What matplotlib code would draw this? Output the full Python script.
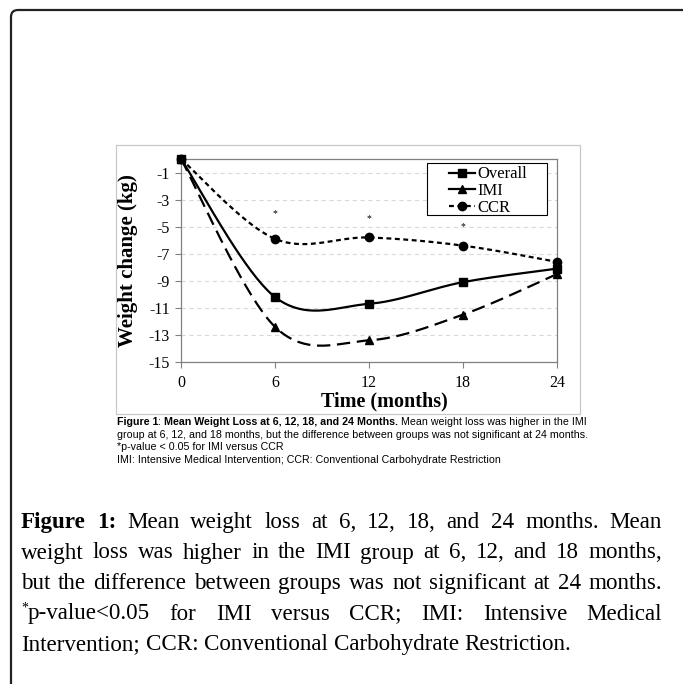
import numpy as np
import matplotlib
matplotlib.use("Agg")
import matplotlib.pyplot as plt
from matplotlib.patches import FancyBboxPatch, Rectangle
from matplotlib.lines import Line2D

# ── data ────────────────────────────────────────────────────────────
months   = [0, 6, 12, 18, 24]
overall  = [0, -10.2, -10.7, -9.1, -8.1]
imi      = [0, -12.4, -13.4, -11.5, -8.5]
ccr      = [0, -5.9, -5.8, -6.4, -7.6]
star_x   = [6, 12, 18]
star_y   = [-4.0, -4.4, -5.0]
y_ticks  = [-1, -3, -5, -7, -9, -11, -13, -15]
x_ticks  = [0, 6, 12, 18, 24]

SERIF = ["Liberation Serif", "DejaVu Serif"]
SANS  = ["Liberation Sans", "DejaVu Sans"]


def smooth(x, y, n=40):
    # Excel-style smoothed line: cubic Bezier through the points
    pts = np.column_stack([x, y]).astype(float)
    P = np.vstack([pts[0], pts, pts[-1]])
    t = np.linspace(0, 1, n)[:, None]
    out = []
    for i in range(1, len(P) - 2):
        p0, p1, p2, p3 = P[i - 1], P[i], P[i + 1], P[i + 2]
        c1 = p1 + (p2 - p0) / 6
        c2 = p2 - (p3 - p1) / 6
        seg = (1 - t)**3 * p1 + 3 * (1 - t)**2 * t * c1 + 3 * (1 - t) * t**2 * c2 + t**3 * p2
        out.append(seg if i == 1 else seg[1:])
    s = np.vstack(out)
    return s[:, 0], s[:, 1]


fig = plt.figure(figsize=(6.83, 6.84), dpi=100)

# page layer in pixel coordinates
page = fig.add_axes([0, 0, 1, 1])
page.set_xlim(0, 683)
page.set_ylim(684, 0)
page.axis("off")

page.add_patch(FancyBboxPatch((11, 10), 720, 720, boxstyle="round,pad=0,rounding_size=7",
                              fill=False, ec="#222222", lw=1.6))
page.add_patch(Rectangle((116, 145), 464, 269, fill=False, ec="#c8c8c8", lw=0.9))

# ── chart ───────────────────────────────────────────────────────────
ax = fig.add_axes([181 / 683, 1 - 362 / 684, 376 / 683, 203 / 684])
series = [
    ("Overall", overall, "s", "-"),
    ("IMI", imi, "^", (0, (6, 3))),
    ("CCR", ccr, "o", (0, (2.2, 1.6))),
]
handles = []
for label, vals, mk, ls in series:
    sx, sy = smooth(months, vals)
    ax.plot(sx, sy, color="black", lw=1.6, ls=ls, clip_on=False, zorder=3)
    ax.plot(months, vals, ls="none", marker=mk, color="black", ms=6, clip_on=False, zorder=4)
    handles.append(Line2D([], [], color="black", lw=1.6,
                          ls="-" if label != "CCR" else (0, (2.2, 1.6)),
                          marker=mk, ms=6))

for xs, ys in zip(star_x, star_y):
    ax.text(xs, ys, "*", ha="center", va="center", fontsize=7, family=SERIF)

ax.set_xlim(0, 24)
ax.set_ylim(-15, 0)
ax.set_xticks(x_ticks)
ax.set_yticks(y_ticks)
ax.set_xticklabels([str(v) for v in x_ticks], family=SERIF, fontsize=11.5)
ax.set_yticklabels([str(v) for v in y_ticks], family=SERIF, fontsize=11.5)
ax.yaxis.grid(True, color="#d9d9d9", ls=(0, (4, 3)), lw=0.8)
ax.set_axisbelow(True)
for sp in ax.spines.values():
    sp.set_color("#808080")
    sp.set_linewidth(0.9)
ax.tick_params(axis="both", direction="out", length=4, width=0.8, color="#808080")
ax.tick_params(axis="x", pad=5)
ax.tick_params(axis="y", pad=4)

# legend: white box with black frame, entries indented as in Excel
ax.add_patch(Rectangle((427, 163), 120, 52, transform=page.transData, clip_on=False,
                       fc="white", ec="black", lw=0.8, zorder=5))
leg = ax.legend(handles, ["Overall", "IMI", "CCR"], loc="upper left",
                bbox_to_anchor=((449 - 181) / 376, 1 - (166.5 - 159) / 203),
                borderaxespad=0, frameon=False,
                prop={"family": SERIF, "size": 12}, handlelength=1.56,
                handletextpad=0.15, labelspacing=0.04, borderpad=0)
leg.set_zorder(6)

page.text(128, 261, "Weight change (kg)", rotation=90, ha="center", va="center",
          family=SERIF, fontweight="bold", fontsize=15)
page.text(384, 401, "Time (months)", ha="center", va="center",
          family=SERIF, fontweight="bold", fontsize=14.5)

renderer = fig.canvas.get_renderer()


def width_of(t):
    return t.get_window_extent(renderer).width


def runs_line(x, y, runs, size, family):
    # draw text runs one after another on one baseline
    for s, weight in runs:
        t = page.text(x, y, s, ha="left", va="baseline", family=family,
                      fontweight=weight, fontsize=size)
        x += width_of(t)


# caption inside the chart image
cap_size = 7.7
runs_line(117, 425, [("Figure 1", "bold"), (": ", "normal"),
                     ("Mean Weight Loss at 6, 12, 18, and 24 Months.", "bold"),
                     (" Mean weight loss was higher in the IMI", "normal")], cap_size, SANS)
runs_line(117, 438, [("group at 6, 12, and 18 months, but the difference between groups "
                      "was not significant at 24 months.", "normal")], cap_size, SANS)
runs_line(117, 450, [("*p-value < 0.05 for IMI versus CCR", "normal")], cap_size, SANS)
runs_line(117, 463, [("IMI: Intensive Medical Intervention; CCR: Conventional "
                      "Carbohydrate Restriction", "normal")], cap_size, SANS)

# main caption, justified
main_size = 16.6
x_left, x_right = 21, 662


def justified(y, words, justify=True):
    # words: list of lists of (text, weight, size_scale, dy)
    objs = []
    total = 0
    for w in words:
        parts = []
        ww = 0
        for s, weight, sc, dy in w:
            t = page.text(0, y + dy, s, ha="left", va="baseline", family=SERIF,
                          fontweight=weight, fontsize=main_size * sc)
            wd = width_of(t)
            parts.append((t, ww))
            ww += wd
        objs.append((parts, ww))
        total += ww
    if justify and len(words) > 1:
        gap = (x_right - x_left - total) / (len(words) - 1)
    else:
        gap = main_size * 100 / 72 * 0.25
    x = x_left
    for parts, ww in objs:
        for t, off in parts:
            t.set_x(x + off)
        x += ww + gap


def plain(s):
    return [[(w, "normal", 1, 0)] for w in s.split()]


base = 528
step = 30.5
justified(base, [[("Figure", "bold", 1, 0)], [("1:", "bold", 1, 0)]]
          + plain("Mean weight loss at 6, 12, 18, and 24 months. Mean"))
justified(base + step, plain("weight loss was higher in the IMI group at 6, 12, and 18 months,"))
justified(base + 2 * step, plain("but the difference between groups was not significant at 24 months."))
justified(base + 3 * step, [[("*", "normal", 0.6, -8), ("p-value<0.05", "normal", 1, 0)]]
          + plain("for IMI versus CCR; IMI: Intensive Medical"))
justified(base + 4 * step, plain("Intervention; CCR: Conventional Carbohydrate Restriction."),
          justify=False)

fig.savefig("out.png", dpi=100)
